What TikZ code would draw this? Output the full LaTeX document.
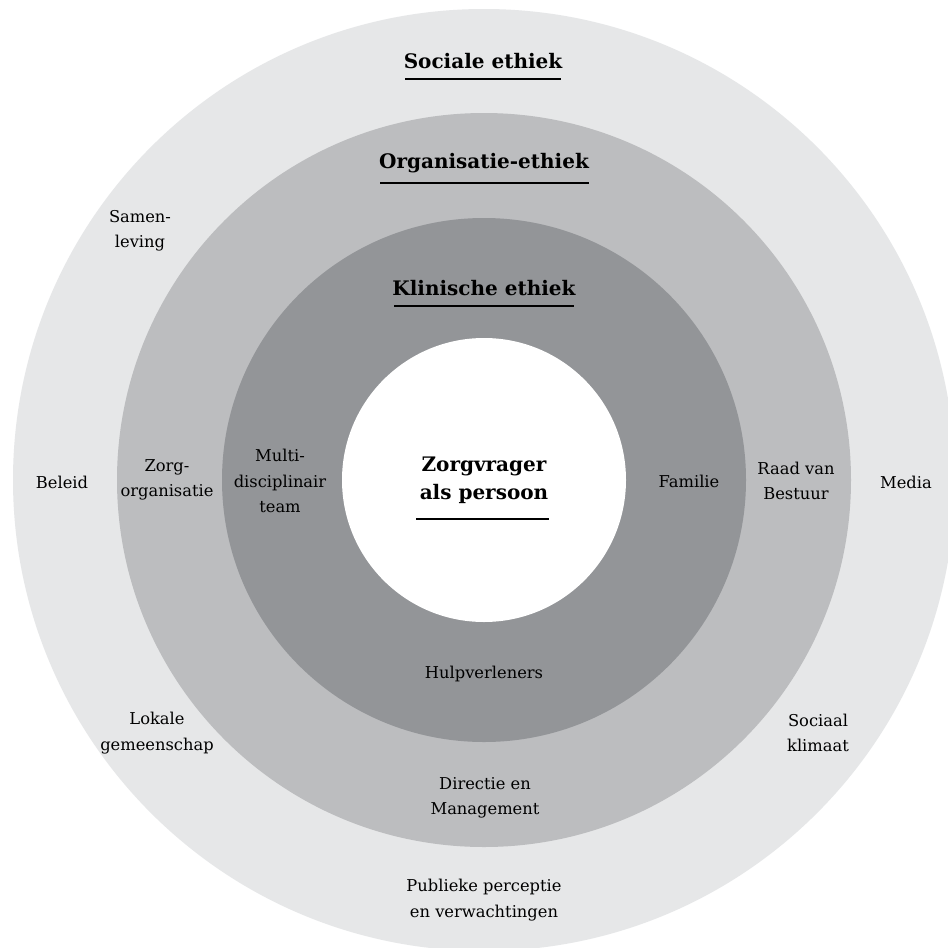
\documentclass[tikz,border=0pt]{standalone}
\usepackage{fontspec}
\setmainfont{DejaVu Serif}
\definecolor{ringA}{HTML}{E6E7E8}
\definecolor{ringB}{HTML}{BCBDBF}
\definecolor{ringC}{HTML}{939598}
\begin{document}
\begin{tikzpicture}[x=1pt,y=-1pt,
  lbl/.style={align=center,font=\fontsize{16.3}{25.5}\selectfont,inner sep=0pt},
  head/.style={align=center,font=\fontsize{20}{28}\selectfont\bfseries,inner sep=0pt},
  uline/.style={line width=1.6pt}]
\useasboundingbox (0,0) rectangle (948,948);
\clip (0,0) rectangle (948,948);
\fill[white] (0,0) rectangle (948,948);
\fill[ringA] (484,480) circle (471);
\fill[ringB] (484,480) circle (367);
\fill[ringC] (484,480) circle (262);
\fill[white] (484,480) circle (142);
% headings
\node[head] (soc) at (483,61) {Sociale ethiek};
\node[head] (org) at (484,163) {Organisatie-ethiek};
\node[head] (kli) at (484,288) {Klinische ethiek};
\node[head] (zorg) at (484,480) {Zorgvrager\\als persoon};
\draw[uline] (405,79) -- (561,79);
\draw[uline] (380,183) -- (589,183);
\draw[uline] (394,306) -- (574,306);
\draw[uline] (416,519) -- (549,519);
% labels
\node[lbl] (sam) at (140,231) {Samen-\\leving};
\node[lbl] (bel) at (62,482) {Beleid};
\node[lbl] (zorgorg) at (167,480) {Zorg-\\organisatie};
\node[lbl] (multi) at (280,481) {Multi-\\disciplinair\\team};
\node[lbl] (fam) at (689,481) {Familie};
\node[lbl] (raad) at (796,481) {Raad van\\Bestuur};
\node[lbl] (media) at (906,482) {Media};
\node[lbl] (hulp) at (484,674) {Hulpverleners};
\node[lbl] (lok) at (157,733) {Lokale\\gemeenschap};
\node[lbl] (soci) at (818,733) {Sociaal\\klimaat};
\node[lbl] (dir) at (485,798) {Directie en\\Management};
\node[lbl] (pub) at (484,900) {Publieke perceptie\\en verwachtingen};
\end{tikzpicture}
\end{document}
